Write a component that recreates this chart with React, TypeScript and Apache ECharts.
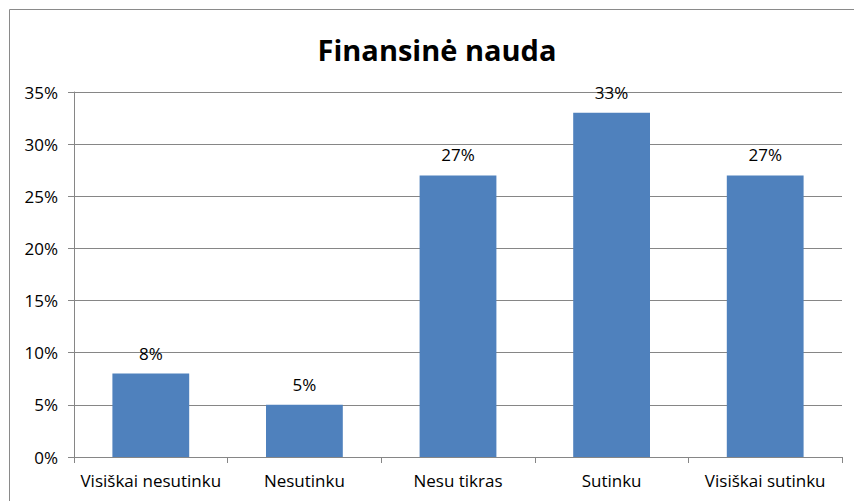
import React, { useEffect, useRef } from "react";
import * as echarts from "echarts";

const categories = ["Visiškai nesutinku", "Nesutinku", "Nesu tikras", "Sutinku", "Visiškai sutinku"];
const values = [8, 5, 27, 33, 27];
const titleText = "Finansinė nauda";

export default function App() {
  const ref = useRef<HTMLDivElement>(null);
  useEffect(() => {
    if (!ref.current) return;
    const chart = echarts.init(ref.current, null, { renderer: "svg" });
    const font = "'Open Sans', 'Noto Sans', sans-serif";
    chart.setOption({
      animation: false,
      backgroundColor: "#ffffff",
      title: {
        text: titleText,
        left: 432,
        top: 30,
        textAlign: "center",
        textStyle: { fontFamily: font, fontSize: 29, fontWeight: "bold", color: "#000" },
      },
      graphic: [
        {
          type: "rect",
          shape: { x: 9.5, y: 9.5, width: 900, height: 600 },
          style: { fill: "none", stroke: "#8a8a8a", lineWidth: 1 },
          silent: true,
        },
      ],
      grid: { left: 74, right: 12, top: 92, bottom: 44, containLabel: false },
      xAxis: {
        type: "category",
        data: categories,
        boundaryGap: true,
        axisLine: { show: true, lineStyle: { color: "#868686", width: 1 } },
        axisTick: { show: true, alignWithLabel: false, length: 6, lineStyle: { color: "#868686" } },
        axisLabel: { fontFamily: font, fontSize: 17, color: "#000", margin: 15, interval: 0 },
      },
      yAxis: {
        type: "value",
        min: 0,
        max: 35,
        interval: 5,
        axisLine: { show: true, lineStyle: { color: "#868686", width: 1 } },
        axisTick: { show: true, length: 6, lineStyle: { color: "#868686" } },
        axisLabel: { fontFamily: font, fontSize: 17, color: "#000", margin: 16, formatter: "{value}%" },
        splitLine: { show: true, lineStyle: { color: "#868686", width: 1 } },
      },
      series: [
        {
          type: "bar",
          data: values,
          barWidth: "50%",
          itemStyle: { color: "#4F81BD" },
          label: {
            show: true,
            position: "top",
            distance: 12,
            formatter: "{c}%",
            fontFamily: font,
            fontSize: 17,
            color: "#000",
          },
        },
      ],
    });
    return () => chart.dispose();
  }, []);
  return (
    <div
      ref={ref}
      style={{ position: "fixed", left: 0, top: 0, width: 854, height: 501 }}
    />
  );
}
